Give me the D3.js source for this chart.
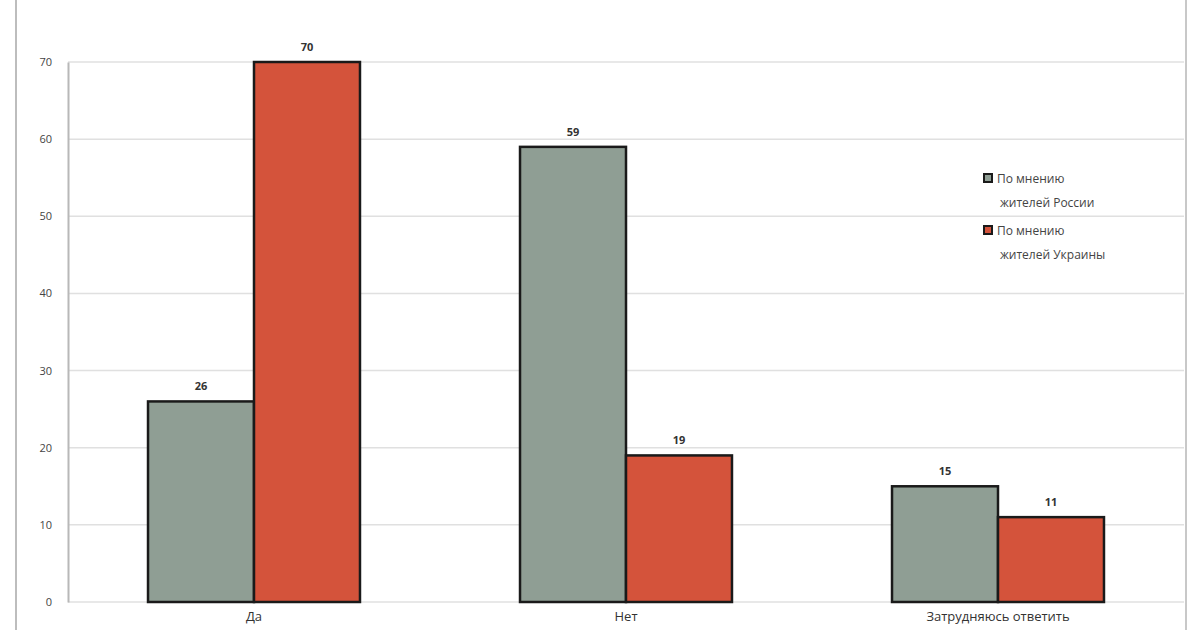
<!DOCTYPE html>
<html><head><meta charset="utf-8">
<script src="https://cdn.jsdelivr.net/npm/d3@7"></script>
<style>body{margin:0;background:#fff}svg{display:block}</style>
</head><body><svg id="c" width="1200" height="630"></svg>
<script>
const categories = ["Да", "Нет", "Затрудняюсь ответить"];
const seriesNames = ["По мнению жителей России", "По мнению жителей  Украины"];
const legendLines = [["По мнению", "жителей России"], ["По мнению", "жителей  Украины"]];
const russia = [26, 59, 15];
const ukraine = [70, 19, 11];
const yTicks = [0, 10, 20, 30, 40, 50, 60, 70];
const colors = ["#8f9e94", "#d4533b"];

const svg = d3.select("#c");
const W = 1200, H = 630;
const left = 68, right = 1184, bottom = 602;
const x = d3.scaleBand().domain(categories).range([left, right]).paddingInner(0).paddingOuter(0);
const y = d3.scaleLinear().domain([0, 70]).range([bottom, 62]);
const x1 = d3.scaleBand().domain([0, 1]).range([0, x.bandwidth()]).paddingInner(0).paddingOuter(0.755);

// outer frame lines
svg.append("line").attr("x1", 16).attr("x2", 16).attr("y1", 0).attr("y2", H).attr("stroke", "#bdbdbd").attr("stroke-width", 2);
svg.append("line").attr("x1", 1186).attr("x2", 1186).attr("y1", 0).attr("y2", H).attr("stroke", "#c8c8c8").attr("stroke-width", 2);

// gridlines
svg.append("g").selectAll("line").data(yTicks).join("line")
  .attr("x1", left).attr("x2", right)
  .attr("y1", d => y(d)).attr("y2", d => y(d))
  .attr("stroke", "#e0e0e0").attr("stroke-width", 1.5);

// y axis
const ya = svg.append("g").attr("transform", `translate(${left},0)`)
  .call(d3.axisLeft(y).tickValues(yTicks).tickSize(0).tickPadding(16));
ya.select(".domain").attr("stroke", "#b8b8b8").attr("stroke-width", 2);
ya.selectAll("text").attr("font-family", "Open Sans, sans-serif").attr("font-size", 11).attr("fill", "#444");

// x axis labels
const xa = svg.append("g").attr("transform", `translate(0,${bottom})`)
  .call(d3.axisBottom(x).tickSize(0).tickPadding(10));
xa.select(".domain").remove();
xa.selectAll("text").attr("font-family", "Open Sans, sans-serif").attr("font-size", 13).attr("fill", "#333");

const data = categories.map((c, i) => ({c, vals: [russia[i], ukraine[i]]}));
const groups = svg.append("g").selectAll("g").data(data).join("g")
  .attr("transform", d => `translate(${x(d.c)},0)`);
groups.selectAll("rect").data(d => d.vals.map((v, j) => ({v, j}))).join("rect")
  .attr("x", d => x1(d.j)).attr("width", x1.bandwidth())
  .attr("y", d => y(d.v)).attr("height", d => y(0) - y(d.v))
  .attr("fill", d => colors[d.j]).attr("stroke", "#1a1a1a").attr("stroke-width", 2.5);
groups.selectAll("text").data(d => d.vals.map((v, j) => ({v, j}))).join("text")
  .attr("x", d => x1(d.j) + x1.bandwidth() / 2).attr("y", d => y(d.v) - 11)
  .attr("text-anchor", "middle").attr("font-family", "Open Sans, sans-serif")
  .attr("font-weight", "bold").attr("font-size", 11).attr("fill", "#333")
  .text(d => d.v);

// legend
const lg = svg.append("g").selectAll("g").data(seriesNames).join("g")
  .attr("transform", (d, i) => `translate(984,${174 + i * 52})`);
lg.append("rect").attr("width", 8).attr("height", 8)
  .attr("fill", (d, i) => colors[i]).attr("stroke", "#1a1a1a").attr("stroke-width", 2);
lg.each(function(d, i) {
  const t = d3.select(this).append("text").attr("font-family", "Open Sans, sans-serif")
    .attr("font-size", 12).attr("fill", "#444");
  legendLines[i].forEach((ln, k) => {
    t.append("tspan").attr("x", k === 0 ? 13 : 16).attr("y", 9 + k * 24).text(ln);
  });
});
</script></body></html>
